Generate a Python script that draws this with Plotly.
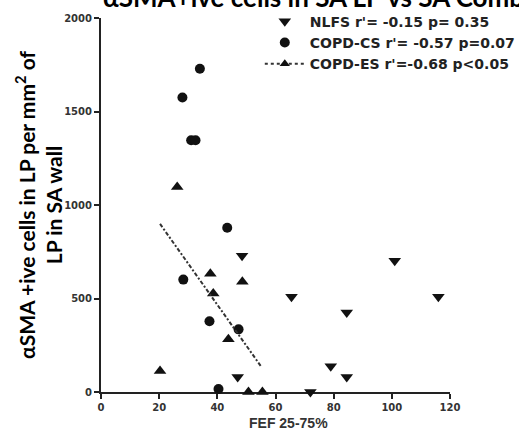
import plotly.graph_objects as go

# FEF 25-75% (x) vs αSMA+ive cells in LP per mm² of LP (y)
nlfs_x = [48.5, 65.5, 84.5, 101, 116, 79, 84.5, 72, 47]
nlfs_y = [729, 510, 425, 702, 510, 138, 80, 0, 80]

cs_x = [34, 28, 31, 32.5, 43.4, 28.3, 37.3, 47.3, 40.4]
cs_y = [1729, 1575, 1346, 1346, 878, 601, 378, 335, 16]

es_x = [26.2, 37.6, 48.6, 38.6, 43.8, 20.3, 50.7, 55.5]
es_y = [1096, 633, 590, 527, 282, 112, 0, 0]

# regression line for COPD-ES
es_fit_x = [20.3, 55.2]
es_fit_y = [899, 133]

x_ticks = [0, 20, 40, 60, 80, 100, 120]
y_ticks = [0, 500, 1000, 1500, 2000]

names = ["NLFS r'= -0.15 p= 0.35",
         "COPD-CS r'= -0.57 p=0.07",
         "COPD-ES r'=-0.68 p<0.05"]

ink = "#111111"
fig = go.Figure()

fig.add_trace(go.Scatter(
    x=nlfs_x, y=nlfs_y, mode="markers", name=names[0],
    marker=dict(symbol="triangle-down", size=11, color=ink),
    cliponaxis=False))
fig.add_trace(go.Scatter(
    x=cs_x, y=cs_y, mode="markers", name=names[1],
    marker=dict(symbol="circle", size=10, color=ink),
    cliponaxis=False))
fig.add_trace(go.Scatter(
    x=es_x, y=es_y, mode="markers", showlegend=False,
    marker=dict(symbol="triangle-up", size=11, color=ink),
    cliponaxis=False))
fig.add_trace(go.Scatter(
    x=es_fit_x, y=es_fit_y, mode="lines", showlegend=False,
    line=dict(color="#333333", width=2, dash="4px,2px,2px,2px")))
# legend entry for the COPD-ES group (markers + fit line)
fig.add_trace(go.Scatter(
    x=[None], y=[None], mode="lines+markers", name=names[2],
    marker=dict(symbol="triangle-up", size=9, color=ink),
    line=dict(color="#333333", width=2, dash="3px,3px")))

axis_common = dict(
    showgrid=False, zeroline=False, showline=True, linecolor="#222222",
    linewidth=2, ticks="outside", ticklen=5, tickwidth=2, tickcolor="#222222",
    tickfont=dict(family="DejaVu Sans", size=10, color="#333333", weight="bold"),
    layer="below traces")

fig.update_xaxes(range=[0, 120], tickvals=x_ticks, **axis_common)
fig.update_yaxes(range=[0, 2000], tickvals=y_ticks, **axis_common)

fig.add_annotation(
    text="αSMA+ive cells in SA LP vs SA Combined", xref="paper", yref="paper",
    x=0, y=1, xanchor="left", yanchor="bottom", yshift=3, showarrow=False,
    font=dict(family="Lato", size=26, color="#000000", weight="bold"))

fig.add_annotation(
    text="αSMA +ive cells in LP per mm<sup>2</sup> of<br>LP in SA wall",
    xref="paper", yref="paper", x=0, y=0.5, xanchor="center", yanchor="middle",
    xshift=-63, textangle=-90, showarrow=False,
    font=dict(family="Lato", size=21, color="#000000", weight="bold"))

fig.add_annotation(
    text="FEF 25-75%", xref="paper", yref="paper", x=0.5, y=0,
    xanchor="center", yanchor="middle", xshift=13, yshift=-31, showarrow=False,
    font=dict(family="Liberation Sans", size=14, color="#333333", weight="bold"))

fig.update_layout(
    width=519, height=436,
    margin=dict(l=101, r=69, t=18, b=44, autoexpand=False),
    paper_bgcolor="white", plot_bgcolor="white",
    legend=dict(x=0.455, y=1.033, xanchor="left", yanchor="top",
                itemwidth=40, bgcolor="rgba(0,0,0,0)",
                font=dict(family="DejaVu Sans", size=14, color="#222222",
                          weight="bold")),
)

fig.write_html("out.html")
